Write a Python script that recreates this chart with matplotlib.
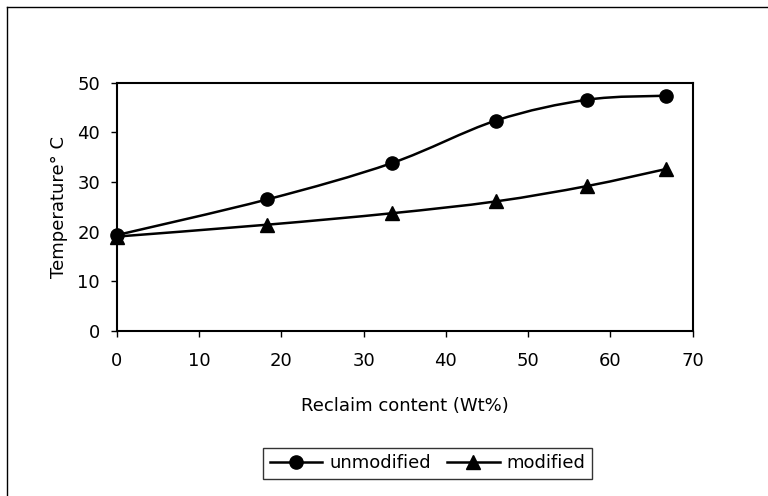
# Temperature vs reclaim content, unmodified / modified
import numpy as np
import matplotlib
matplotlib.use('Agg')
import matplotlib.pyplot as plt
from matplotlib.path import Path
from matplotlib.patches import PathPatch
from matplotlib.lines import Line2D

plt.rcParams['font.family'] = ['DejaVu Sans']

# %% data
reclaim = [0, 18.3, 33.4, 46.1, 57.2, 66.7]
unmodified = [19.3, 26.5, 33.8, 42.4, 46.6, 47.4]
modified = [19.0, 21.4, 23.7, 26.1, 29.2, 32.6]
series_names = ['unmodified', 'modified']
x_ticks = [0, 10, 20, 30, 40, 50, 60, 70]
y_ticks = [0, 10, 20, 30, 40, 50]


def smooth_path(xs, ys):
    # Bezier through the points, like a spreadsheet "smoothed line"
    p = np.column_stack([xs, ys]).astype(float)
    pts = np.vstack([p[0], p, p[-1]])
    verts = [p[0]]
    codes = [Path.MOVETO]
    for i in range(1, len(pts) - 2):
        c1 = pts[i] + (pts[i + 1] - pts[i - 1]) / 6
        c2 = pts[i + 1] - (pts[i + 2] - pts[i]) / 6
        verts += [c1, c2, pts[i + 1]]
        codes += [Path.CURVE4] * 3
    return Path(verts, codes)


fig = plt.figure(figsize=(7.68, 4.96), dpi=100)
ax = fig.add_axes([0.152, 0.333, 0.750, 0.500])

for ys, mk, name in [(unmodified, 'o', series_names[0]), (modified, '^', series_names[1])]:
    ax.add_patch(PathPatch(smooth_path(reclaim, ys), fill=False, lw=1.8, ec='black', zorder=2))
    ax.plot(reclaim, ys, ls='none', marker=mk, ms=9.5, color='black', zorder=3, clip_on=False)

ax.set_xlim(0, 70)
ax.set_ylim(0, 50)
ax.set_xticks(x_ticks)
ax.set_yticks(y_ticks)
ax.tick_params(direction='out', length=4, width=1, labelsize=13, colors='black')
ax.tick_params(axis='x', pad=11)
ax.tick_params(axis='y', pad=8)
for s in ax.spines.values():
    s.set_linewidth(1.5)
ax.set_xlabel('Reclaim content (Wt%)', fontsize=13, labelpad=20)
ax.set_ylabel('Temperature° C', fontsize=13, labelpad=7)

handles = [Line2D([], [], color='black', lw=1.8, marker='o', ms=9.5),
           Line2D([], [], color='black', lw=1.8, marker='^', ms=9.5)]
leg = fig.legend(handles, series_names, loc='center', bbox_to_anchor=(0.557, 0.066),
                 ncol=2, fontsize=13, frameon=True, fancybox=False, edgecolor='black',
                 handlelength=2.9, handletextpad=0.4, columnspacing=0.9, borderpad=0.35)
leg.get_frame().set_linewidth(1.0)

# outer chart border (top and left visible)
fig.add_artist(Line2D([0.009, 1.0], [0.986, 0.986], color='black', lw=1.0, transform=fig.transFigure))
fig.add_artist(Line2D([0.009, 0.009], [0.0, 0.986], color='black', lw=1.0, transform=fig.transFigure))

fig.savefig('out.png', dpi=100)
